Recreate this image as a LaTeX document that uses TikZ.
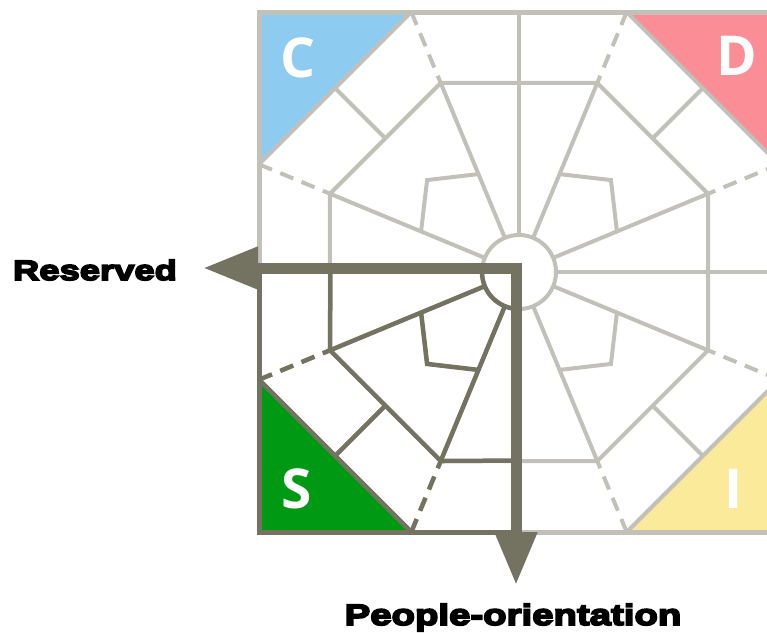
\documentclass[tikz,border=0pt]{standalone}
\usepackage{fontspec}
\setmainfont{Liberation Sans}
\newfontfamily\heavyfont{Liberation Sans Bold}[FakeBold=6,FakeStretch=1.3]
\newfontfamily\letterfont{Open Sans}
\usepackage{tikz}
\usetikzlibrary{calc,arrows.meta}

\definecolor{rimgray}{RGB}{194,193,185}
\definecolor{olivegray}{RGB}{116,115,98}
\definecolor{cfill}{RGB}{142,203,240}
\definecolor{dfill}{RGB}{250,141,150}
\definecolor{sfill}{RGB}{0,153,20}
\definecolor{ifill}{RGB}{252,234,155}

\begin{document}
\begin{tikzpicture}[x=1pt,y=-1pt,
  rim/.style={draw=rimgray,line width=4pt},
  darkrim/.style={draw=olivegray,line width=4.5pt},
  gap/.style={dash pattern=on 14pt off 9pt},
  axisarrow/.style={draw=olivegray,line width=11pt,
    {Triangle[length=55pt,width=40pt]}-{Triangle[length=53pt,width=40pt]}},
  letter/.style={text=white,anchor=base,font=\letterfont\bfseries\fontsize{55}{55}\selectfont},
  caption/.style={anchor=base,font=\heavyfont\fontsize{28}{30}\selectfont}]

 \clip (0,0) rectangle (767,632);

 \coordinate (o) at (519,272);
 \coordinate (nw) at (259,12);
 \coordinate (ne) at (779,12);
 \coordinate (sw) at (259,532);
 \coordinate (se) at (779,532);

 \foreach \k in {1,...,8} {
  \coordinate (ov\k) at ($(o)+(\k*45-22.5:281.4)$);
  \coordinate (iv\k) at ($(o)+(\k*45-22.5:204.6)$);
  \coordinate (hb\k) at ($(o)+(\k*45-22.5:37)$);
 }
 \foreach \a in {0,90,180,270} {
  \coordinate (ha\a) at ($(o)+(\a:37)$);
  \coordinate (ia\a) at ($(o)+(\a:188.5)$);
  \coordinate (ea\a) at ($(o)+(\a:260)$);
 }
 \foreach \d in {45,135,225,315} {
  \coordinate (kl\d) at ($(o)+(\d-22.5:106)$);
  \coordinate (kt\d) at ($(o)+(\d:130)$);
  \coordinate (kr\d) at ($(o)+(\d+22.5:106)$);
  \coordinate (mi\d) at ($(o)+(\d:188.5)$);
  \coordinate (mo\d) at ($(o)+(\d:260)$);
 }

 % corner triangles
 \fill[cfill] (nw) -- (ov6) -- (ov5) -- cycle;
 \fill[dfill] (ne) -- (ov7) -- (ov8) -- cycle;
 \fill[sfill] (sw) -- (ov4) -- (ov3) -- cycle;
 \fill[ifill] (se) -- (ov2) -- (ov1) -- cycle;

 % light frame
 \draw[rim,line width=5pt] (nw) rectangle (se);
 \draw[rim] (ov5) -- (ov6) (ov7) -- (ov8) (ov1) -- (ov2) (ov3) -- (ov4);
 \draw[rim] (iv1) -- (iv2) -- (iv3) -- (iv4) -- (iv5) -- (iv6) -- (iv7) -- (iv8) -- cycle;
 \foreach \k in {1,...,8} \draw[rim] (hb\k) -- (iv\k);
 \foreach \k in {1,...,8} \draw[rim,gap] (ov\k) -- (iv\k);
 \foreach \a in {0,90,180,270} \draw[rim] (ha\a) -- (ea\a);
 \foreach \d in {45,135,225,315} \draw[rim] (mi\d) -- (mo\d) (kl\d) -- (kt\d) -- (kr\d);
 \draw[rim] (o) circle[radius=37];

 % S quadrant
 \draw[darkrim,line width=5pt] (ea180) -- (sw) -- (ea90);
 \draw[darkrim] (ov4) -- (ov3);
 \draw[darkrim,gap] (ov3) -- (iv3) (ov4) -- (iv4);
 \draw[darkrim] (ia90) -- (iv3) -- (iv4) -- (ia180);
 \draw[darkrim] (hb3) -- (iv3) (hb4) -- (iv4) (mi135) -- (mo135);
 \draw[darkrim] (kl135) -- (kt135) -- (kr135);
 \draw[darkrim] (ha90) arc[start angle=90,end angle=180,radius=37];

 \node[letter] (cl) at (298,77) {C};
 \node[letter] (dl) at (737,75) {D};
 \node[letter] (sl) at (297,508) {S};
 \node[letter] (il) at (734,508) {I};

 \coordinate (hub) at (516,268);
 \coordinate (rtip) at (203,268);
 \coordinate (ptip) at (516,585);
 \draw[axisarrow] (rtip) -- (hub) -- (ptip);

 \node[caption] (reserved) at (95,280) {Reserved};
 \node[caption,font=\heavyfont\fontsize{29.5}{31}\selectfont] (people) at (513,625) {People-orientation};

\end{tikzpicture}
\end{document}
